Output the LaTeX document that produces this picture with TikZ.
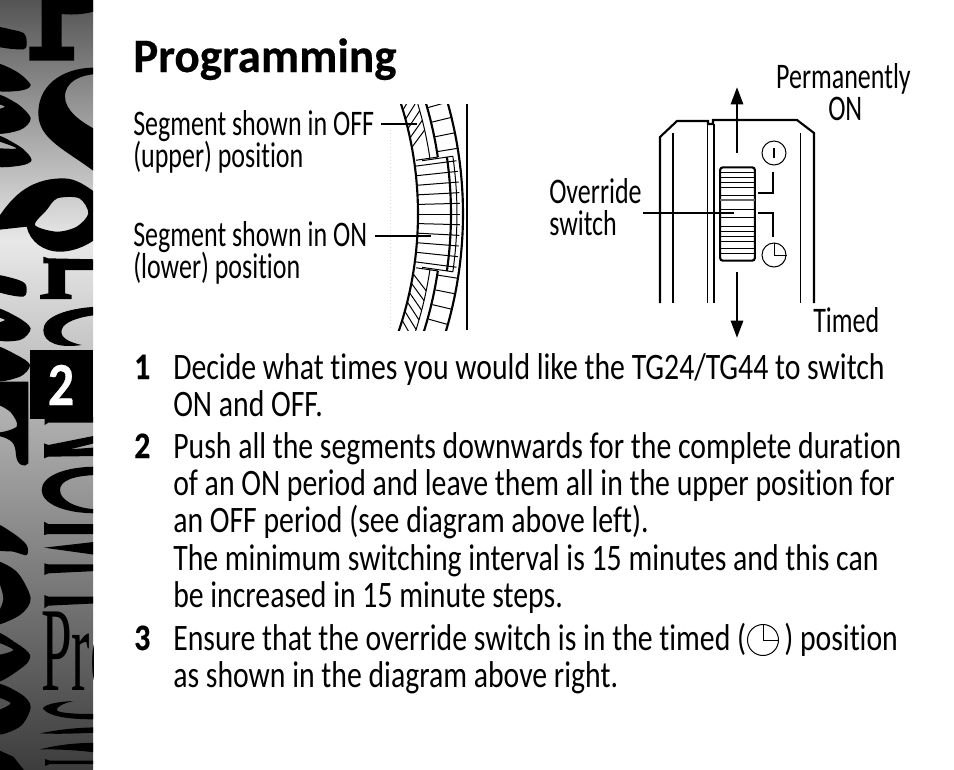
\documentclass[tikz,border=0pt]{standalone}
\usepackage{fontspec}
\setmainfont[FakeStretch=0.797, Ligatures=NoCommon]{Carlito}
\newfontfamily\labelfont[FakeStretch=0.722, Ligatures=NoCommon]{Carlito}
\newfontfamily\titlefont[FakeStretch=0.98, FakeBold=0.4, Ligatures=NoCommon]{Carlito Bold}
\newfontfamily\numfont[FakeStretch=0.85, FakeBold=0.4]{Carlito Bold}
\newfontfamily\profont{Liberation Serif}
\usetikzlibrary{arrows.meta}
\definecolor{striplight}{gray}{0.91}
\definecolor{striptop}{gray}{0.33}
\definecolor{stripbot}{gray}{0.24}
\tikzset{
  txt/.style={anchor=base west, inner sep=0pt, font=\fontsize{28}{34}\selectfont},
  lbl/.style={anchor=base west, inner sep=0pt, font=\labelfont\fontsize{27}{34}\selectfont},
  num/.style={anchor=base west, inner sep=0pt, font=\numfont\fontsize{28}{34}\selectfont},
  thin line/.style={line width=0.75pt},
  thick line/.style={line width=1.6pt},
  blob/.style={fill=black, draw=none},
  bigarrow/.style={line width=2.2pt, -{Triangle[length=13pt,width=9pt]}}
}
\begin{document}
\begin{tikzpicture}[x=0.75pt, y=-0.75pt]
\useasboundingbox (0,0) rectangle (954,769);
%%% side strip %%%
      \fill[top color=striptop, bottom color=striplight] (0,0) rectangle (93,241);
      \fill[top color=striplight, bottom color=stripbot] (0,240) rectangle (93,769);
      \begin{scope}
      \clip (0,0) rectangle (93,769);
      \node[anchor=base west, inner sep=0pt, xscale=0.46, font=\profont\fontsize{90}{90}\selectfont] (pro) at (41,690) {Pro};
      %% upper half
      \begin{scope}[x=0.25pt, y=-0.25pt]
        \fill[blob] (125,-5) -- (290,-5) -- (290,32) .. controls (260,42) and (225,46) .. (185,42) -- (185,140) -- (222,140) -- (222,182) -- (88,182) -- (88,140) -- (125,140) -- cycle;
        \fill[blob] plot[smooth cycle] coordinates {(-20,82) (40,90) (72,100) (80,122) (70,148) (-20,135)};
        \fill[blob] plot[smooth cycle] coordinates {(-20,190) (50,215) (92,255) (60,272) (-20,268)};
        \fill[blob, even odd rule] plot[smooth cycle] coordinates {(-20,285) (50,310) (92,355) (60,390) (-20,395)} plot[smooth cycle] coordinates {(-20,310) (15,320) (-20,330)};
        \fill[blob, even odd rule] plot[smooth cycle] coordinates {(-20,405) (60,440) (95,480) (60,497) (-20,495)} plot[smooth cycle] coordinates {(-20,420) (50,445) (-20,442)};
        \fill[blob] (290,203) .. controls (210,200) and (115,240) .. (115,340) .. controls (115,420) and (200,450) .. (290,520) -- (290,390) .. controls (240,365) and (195,330) .. (195,290) .. controls (195,245) and (240,225) .. (290,222) -- cycle;
        \fill[blob, even odd rule] (-10,690) -- (-10,660) .. controls (30,600) and (80,535) .. (190,535) .. controls (230,535) and (260,560) .. (290,580) -- (290,715) .. controls (250,745) and (210,755) .. (180,755) .. controls (130,755) and (90,725) .. (80,680) -- cycle
          plot[smooth cycle] coordinates {(105,675) (140,630) (172,595) (238,595) (265,640) (230,680) (170,695)};
        \fill[blob] (130,770) -- (145,775) -- (290,778) -- (290,810) -- (195,810) -- (195,880) -- (215,885) -- (215,897) -- (120,897) -- (120,885) -- (145,880) -- (145,790) -- (130,790) -- cycle;
        \fill[blob] plot[smooth cycle] coordinates {(-20,825) (50,838) (78,855) (70,890) (-20,870)};
        \fill[blob, even odd rule] plot[smooth cycle] coordinates {(-20,925) (50,950) (92,985) (60,1020) (-20,1015)} plot[smooth cycle] coordinates {(-20,950) (15,960) (-20,970)};
        \fill[blob] plot[smooth cycle] coordinates {(-20,1040) (50,1065) (90,1095) (60,1130) (-20,1140)};
        \fill[blob] (290,920) .. controls (200,925) and (130,950) .. (130,990) .. controls (130,1030) and (180,1045) .. (245,1035) .. controls (200,1025) and (180,1010) .. (185,990) .. controls (190,965) and (240,950) .. (290,945) -- cycle;
      \end{scope}
      %% lower half
      \begin{scope}[x=0.25pt, y=-0.25pt, yshift=-288.75pt]
        \fill[blob, even odd rule] (-20,-10) -- (85,-10) -- (85,235) .. controls (75,250) and (50,240) .. (48,210) .. controls (45,180) and (45,160) .. (-20,150) -- cycle
          plot[smooth cycle] coordinates {(-20,60) (30,80) (50,125) (-20,140)};
        \fill[blob] (134,95) -- (290,95) -- (290,113) -- (145,113) -- (134,120) -- cycle;
        \fill[blob] (132,175) -- (145,180) -- (290,151) -- (290,173) -- (210,193) -- (290,187) -- (290,213) -- (145,215) -- (132,220) -- cycle;
        \fill[blob] (290,245) .. controls (190,245) and (125,275) .. (125,315) .. controls (125,355) and (190,385) .. (290,385) -- (290,373) .. controls (225,370) and (180,345) .. (180,315) .. controls (180,285) and (225,272) .. (290,270) -- cycle;
        \fill[blob] (132,410) -- (145,417) -- (290,417) -- (290,447) -- (145,447) -- (132,450) -- cycle;
        \fill[blob] (132,488) -- (290,470) -- (290,510) -- cycle;
        \fill[blob] (133,535) -- (145,538) -- (290,538) -- (290,558) -- (145,565) -- (133,570) -- cycle;
        \fill[blob] (133,630) -- (145,635) -- (290,635) -- (290,655) -- (145,662) -- (133,670) -- cycle;
        \fill[blob] plot[smooth cycle] coordinates {(-20,415) (40,445) (80,480) (80,510) (40,500) (-20,490)};
        \fill[blob] plot[smooth cycle] coordinates {(-20,530) (50,560) (92,640) (60,690) (-20,720)  (10,640)};
        \fill[blob, even odd rule] plot[smooth cycle] coordinates {(-20,745) (50,775) (90,810) (70,845) (-20,890)} plot[smooth cycle] coordinates {(-20,770) (40,795) (-20,810)};
        \fill[blob, even odd rule] plot[smooth cycle] coordinates {(-20,900) (60,925) (92,965) (60,1025) (-20,1043)} plot[smooth cycle] coordinates {(-25,935) (32,955) (-25,980)};
        \fill[blob] (-5,1095) -- (40,1115) -- (72,1155) -- (-5,1155) -- cycle;
        \fill[blob] (128,970) .. controls (140,955) and (180,950) .. (220,948) .. controls (190,955) and (170,965) .. (170,975) .. controls (175,985) and (230,987) .. (290,987) -- (290,1003) .. controls (230,1003) and (150,1000) .. (128,970) -- cycle;
        \fill[blob] (120,1045) .. controls (180,1033) and (230,1028) .. (290,1027) -- (290,1043) .. controls (230,1045) and (180,1048) .. (120,1045) -- cycle;
        \fill[blob] (120,1093) .. controls (180,1078) and (230,1074) .. (290,1073) -- (290,1103) .. controls (230,1095) and (180,1093) .. (120,1093) -- cycle;
        \fill[blob] (135,1122) -- (150,1127) -- (290,1127) -- (290,1137) -- (150,1137) -- (135,1143) -- cycle;
      \end{scope}
      \end{scope}
      \fill[black] (30,350) rectangle (93,419);
      \node[anchor=base, inner sep=0pt, text=white, font=\numfont\fontsize{46}{46}\selectfont] (chapter) at (61,405) {2};

%%% title and labels %%%
      \node[anchor=base west, inner sep=0pt, font=\titlefont\fontsize{36}{40}\selectfont] (title) at (133,72) {Programming};
      \node[lbl] (segoff)  at (133,135) {Segment shown in OFF};
      \node[lbl] (segoffb) at (133,167) {(upper) position};
      \node[lbl] (segon)   at (133,246) {Segment shown in ON};
      \node[lbl] (segonb)  at (133,278) {(lower) position};
      \node[lbl] (override) at (549,203) {Override};
      \node[lbl] (overrideb) at (549,235) {switch};
      \node[lbl, anchor=base east] (perm) at (911,88) {Permanently};
      \node[lbl] (permb) at (828,120) {ON};
      \node[lbl] (timed) at (813,332) {Timed};

%%% body text %%%
      \node[num] (numa) at (134,379) {1};
      \node[txt] (la) at (173,379) {Decide what times you would like the TG24/TG44 to switch};
      \node[txt] (lb) at (173,416) {ON and OFF.};
      \node[num] (numb) at (134,458) {2};
      \node[txt] (lc) at (173,458) {Push all the segments downwards for the complete duration};
      \node[txt] (ld) at (173,495) {of an ON period and leave them all in the upper position for};
      \node[txt] (le) at (173,532) {an OFF period (see diagram above left).};
      \node[txt] (lf) at (173,570) {The minimum switching interval is 15 minutes and this can};
      \node[txt] (lg) at (173,607) {be increased in 15 minute steps.};
      \node[num] (numc) at (134,650) {3};
      \node[txt] (lh) at (173,650) {Ensure that the override switch is in the timed (};
      \node[txt] (li) at (784,650) {) position};
      \node[txt] (lj) at (173,687) {as shown in the diagram above right.};
      \node[circle, draw, thin line, minimum size=31pt*0.75, inner sep=0pt] (clocktext) at (763,640) {};
      \draw[thin line] (clocktext.north) -- (clocktext.center) -- (clocktext.east);

%%% segment dial %%%
      \draw[thick line] (467,104) -- (467,330);
      \draw[gray!30, line width=0.5pt, dotted] (390,130) -- (390,330);
      \begin{scope}[shift={(52,214)}]
        \clip (300,-110) rectangle (412,116);
        \draw[line width=1.6pt] plot[domain=-20:20, samples=50] ({366*cos(\x)},{366*sin(\x)});
        \draw[line width=1.6pt] plot[domain=-20:20, samples=50] ({411*cos(\x)},{411*sin(\x)});
        %% segments in ON
        \foreach \a in {-7.5,-6,...,7.6}
          \draw[thin line] (\a:366) -- (\a:408);
        \draw[thick line] plot[domain=-8.2:8.2, samples=20] ({399*cos(\x)},{399*sin(\x)});
        \draw[thin line] plot[domain=-8.2:8.2, samples=20] ({405*cos(\x)},{405*sin(\x)});
        \draw[thin line] (-8.2:374) -- (-8.2:405) (8.2:374) -- (8.2:405);
        %% segments in OFF
        \foreach \a in {-18,-16.5,...,-9.4}
          \draw[thin line] (\a:366) -- (\a-2.2:382);
        \foreach \a in {9.4,10.9,...,18}
          \draw[thin line] (\a:366) -- (\a+2.2:382);
        \foreach \a in {-18,-15.8,...,-9}
          \draw[thin line] (\a:391) -- (\a:411);
        \foreach \a in {9,11.2,...,18}
          \draw[thin line] (\a:391) -- (\a:411);
        \draw[thin line] plot[domain=-20:-8.4, samples=20] ({382*cos(\x)},{382*sin(\x)});
        \draw[thin line] plot[domain=8.4:20, samples=20] ({382*cos(\x)},{382*sin(\x)});
        \draw[thick line] plot[domain=-20:-8.4, samples=20] ({390*cos(\x)},{390*sin(\x)});
        \draw[thick line] plot[domain=8.4:20, samples=20] ({390*cos(\x)},{390*sin(\x)});
        \draw[thin line] (-8.4:368) -- (-8.4:390) (8.4:368) -- (8.4:390);
        \coordinate (segoffend) at (365,-90);
        \coordinate (segonend) at (379,22);
      \end{scope}
      \coordinate (segoffstart) at (381,124);
      \coordinate (segonstart) at (375,236);
      \draw[thick line] (segoffstart) -- (segoffend);
      \draw[thick line] (segonstart) -- (segonend);

%%% override switch %%%
      \draw[thick line] (660,303) -- (660,137) -- (677,121) -- (708,121) -- (708,124) -- (713,124) -- (713,120) -- (797,120) -- (814,133) -- (814,303);
      \draw[thick line] (673,133) -- (673,303);
      \draw[thin line] (707,124) -- (707,303);
      \draw[thick line] (714,124) -- (714,303);
      \draw[thin line] (800,133) -- (800,303);
      \node[draw, thick line, rounded corners=2pt, minimum width=26pt, minimum height=70pt, inner sep=0pt] (slider) at (737.5,214) {};
      \foreach \y in {172,177,182,187,195,200,209,217,226,231,236,241,248,253}
        \draw[thin line] (720,\y) -- (755,\y);
      \draw[line width=1.2pt, gray!80!black] (720,200) -- (755,200);
      \coordinate (upstart) at (737,153);
      \coordinate (uptip) at (737,87);
      \coordinate (downstart) at (737,272);
      \coordinate (downtip) at (737,338);
      \draw[bigarrow] (upstart) -- (uptip);
      \draw[bigarrow] (downstart) -- (downtip);
      \coordinate (switchstart) at (643,213);
      \coordinate (switchend) at (734,213);
      \draw[thick line] (switchstart) -- (switchend);
      \node[circle, draw, thin line, minimum size=18pt, inner sep=0pt] (permsym) at (774,153) {};
      \draw[thick line] (774,148) -- (774,158);
      \node[circle, draw, thin line, minimum size=18pt, inner sep=0pt] (timedsym) at (774,255) {};
      \draw[thin line] (timedsym.north) -- (timedsym.center) -- (timedsym.east);
      \draw[line width=2pt] (758,193) -- (773,193) -- (773,172);
      \draw[line width=1.2pt] (758,213) -- (773,213) -- (773,237);
\end{tikzpicture}
\end{document}
